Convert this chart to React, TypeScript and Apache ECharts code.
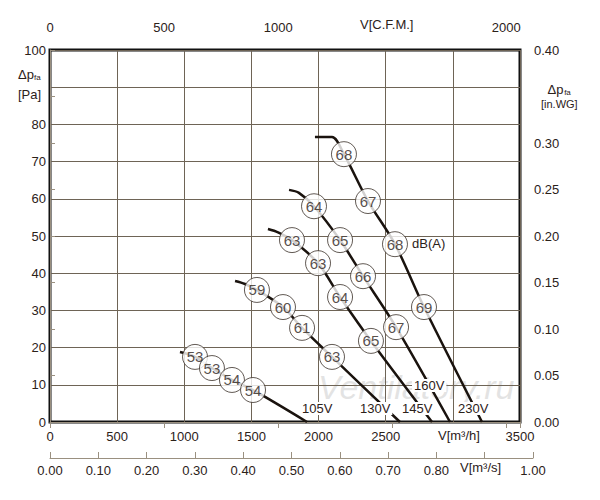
import { useEffect, useRef } from 'react';
import * as echarts from 'echarts';

// flow m3/h, pressure Pa
const c105 = [[968, 18.8], [1080, 17.5], [1206, 14.5], [1355, 11.3], [1512, 8.6], [1914, 0]];
const c130 = [[1378, 37.9], [1452, 37.1], [1541, 35.5], [1735, 30.9], [1877, 25.3], [2100, 17.5], [2606, 0]];
const c145 = [[1623, 51.9], [1698, 51], [1802, 48.9], [1996, 42.7], [2160, 33.6], [2390, 21.8], [2845, 0]];
const c160 = [[1780, 62.4], [1854, 61.6], [1966, 58], [2160, 48.9], [2331, 39.2], [2577, 25.5], [2979, 0]];
const c230 = [[1973, 76.6], [2100, 76.6], [2189, 72], [2368, 59.4], [2569, 47.8], [2785, 30.9], [3217, 0]];
const curves = [c105, c130, c145, c160, c230];

// dB(A) markers [flow, pressure, level]
const markers = [
  [1080, 17.5, 53], [1206, 14.5, 53], [1355, 11.3, 54], [1512, 8.6, 54],
  [1541, 35.5, 59], [1735, 30.9, 60], [1877, 25.3, 61], [2100, 17.5, 63],
  [1802, 48.9, 63], [1996, 42.7, 63], [2160, 33.6, 64], [2390, 21.8, 65],
  [1966, 58, 64], [2160, 48.9, 65], [2331, 39.2, 66], [2577, 25.5, 67],
  [2189, 72, 68], [2368, 59.4, 67], [2569, 47.8, 68], [2785, 30.9, 69],
];

const voltLabels = [
  { t: '105V', x: 300, y: 402 }, { t: '130V', x: 358, y: 402 }, { t: '145V', x: 400, y: 402 },
  { t: '160V', x: 412, y: 379 }, { t: '230V', x: 456, y: 402 },
];

const ink = '#2b2119';
const gridCol = '#6e6456';
const font = 'Liberation Sans, Arial, sans-serif';

export default function App() {
  const ref = useRef<HTMLDivElement>(null);
  useEffect(() => {
    if (!ref.current) return;
    const chart = echarts.init(ref.current, undefined, { renderer: 'svg' });
    const lab = { color: ink, fontSize: 13, fontFamily: font };
    const txt = (t: string, x: number, y: number, bg = false) => ({
      type: 'text', left: x, top: y, z: 10,
      style: { text: t, fill: ink, font: `13px ${font}`, ...(bg ? { backgroundColor: '#fff', padding: [0, 2] } : {}) },
    });
    chart.setOption({
      animation: false,
      backgroundColor: '#fff',
      grid: [
        { left: 50, right: 80, top: 50, bottom: 78, show: true, borderColor: '#111', borderWidth: 3 },
        { left: 50, width: 483, top: 458, height: 0 },
      ],
      xAxis: [
        {
          type: 'value', min: 0, max: 3500, interval: 500, gridIndex: 0,
          axisLine: { show: false }, axisTick: { show: false },
          axisLabel: { ...lab, margin: 8, formatter: (v: number) => (v === 3000 ? '' : String(v)) },
          splitLine: { lineStyle: { color: gridCol, width: 1 } },
        },
        {
          type: 'value', min: 0, max: 3500 / 1.699, interval: 500, gridIndex: 0, position: 'top', offset: 10,
          axisLine: { show: true, lineStyle: { color: '#9a9080' } },
          axisTick: { show: true, inside: true, length: 6, lineStyle: { color: '#9a9080' } },
          axisLabel: { ...lab, margin: 6, formatter: (v: number) => (v <= 2000 && v !== 1500 ? String(v) : '') },
          splitLine: { show: false },
        },
        {
          type: 'value', min: 0, max: 1, interval: 0.1, gridIndex: 1,
          axisLine: { show: true, lineStyle: { color: '#9a9080' } },
          axisTick: { show: true, inside: true, length: 6, lineStyle: { color: '#9a9080' } },
          axisLabel: { ...lab, margin: 6, formatter: (v: number) => (Math.abs(v - 0.9) < 1e-6 ? '' : v.toFixed(2)) },
          splitLine: { show: false },
        },
      ],
      yAxis: [
        {
          type: 'value', min: 0, max: 100, interval: 10, gridIndex: 0,
          axisLine: { show: false }, axisTick: { show: false },
          axisLabel: { ...lab, margin: 4, formatter: (v: number) => (v === 90 ? '' : String(v)) },
          splitLine: { lineStyle: { color: gridCol, width: 1 } },
        },
        {
          type: 'value', min: 0, max: 0.4, interval: 0.05, gridIndex: 0, position: 'right', offset: 10,
          axisLine: { show: true, lineStyle: { color: '#9a9080' } },
          axisTick: { show: true, length: 5, lineStyle: { color: '#9a9080' } },
          axisLabel: { ...lab, margin: 4, formatter: (v: number) => (Math.abs(v - 0.35) < 1e-6 ? '' : v.toFixed(2)) },
          splitLine: { show: false },
        },
        { type: 'value', gridIndex: 1, show: false },
      ],
      series: [
        ...curves.map((d) => ({
          type: 'line', data: d, smooth: 0.3, showSymbol: false, z: 2,
          lineStyle: { color: '#1a130e', width: 2.5 },
        })),
        {
          type: 'scatter', z: 5,
          data: markers,
          symbolSize: 25,
          itemStyle: { color: '#fff', borderColor: '#3a3028', borderWidth: 1 },
          label: {
            show: true, position: 'inside', color: ink, fontSize: 15, fontFamily: font,
            formatter: (p: any) => String(p.value[2]),
          },
        },
      ],
      graphic: [
        {
          type: 'text', left: 318, top: 370, z: 0,
          style: { text: 'Ventilatory.ru', fill: 'rgba(200,200,200,0.5)', font: `italic 34px ${font}` },
        },
        txt('V[C.F.M.]', 360, 18),
        txt('V[m³/h]', 438, 429),
        txt('V[m³/s]', 460, 461),
        txt('dB(A)', 412, 237),
        {
          type: 'text', left: 18, top: 68,
          style: {
            text: '{a|Δp}{s|fa}\n{a|[Pa]}', fill: ink,
            rich: { a: { fontSize: 13, fontFamily: font, lineHeight: 20, fill: ink }, s: { fontSize: 8, fontFamily: font, fill: ink, padding: [6, 0, 0, 0] } },
          },
        },
        {
          type: 'text', left: 541, top: 83,
          style: {
            text: '{a|  Δp}{s|fa}\n{b|[in.WG]}', fill: ink,
            rich: { a: { fontSize: 13, fontFamily: font, lineHeight: 18, fill: ink }, b: { fontSize: 11, fontFamily: font, fill: ink }, s: { fontSize: 8, fontFamily: font, fill: ink, padding: [6, 0, 0, 0] } },
          },
        },
        ...voltLabels.map((v) => txt(v.t, v.x, v.y, true)),
      ],
    });
    return () => chart.dispose();
  }, []);
  return <div ref={ref} style={{ width: 600, height: 500, margin: -8 }} />;
}
